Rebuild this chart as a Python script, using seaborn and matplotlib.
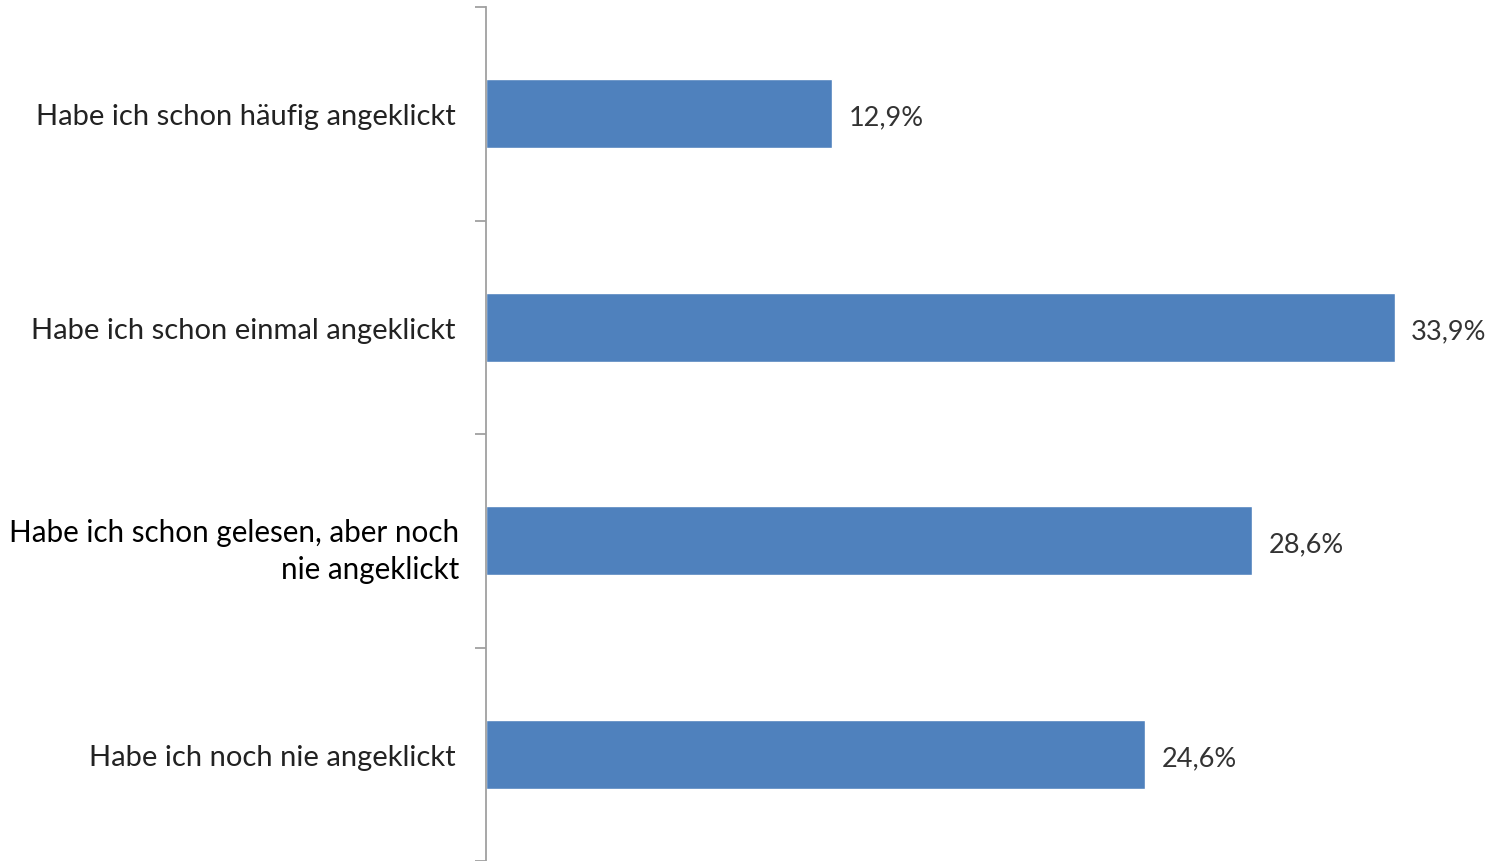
import matplotlib
matplotlib.use("Agg")
import matplotlib.pyplot as plt
import matplotlib.transforms as mtransforms
import seaborn as sns
import pandas as pd

categories = [
    "Habe ich schon häufig angeklickt",
    "Habe ich schon einmal angeklickt",
    "Habe ich schon gelesen, aber noch\nnie angeklickt",
    "Habe ich noch nie angeklickt",
]
values = [12.9, 33.9, 28.6, 24.6]
value_labels = ["12,9%", "33,9%", "28,6%", "24,6%"]

sns.set_theme(style="white")
plt.rcParams["font.family"] = ["Lato", "DejaVu Sans"]

df = pd.DataFrame({"Kategorie": categories, "Anteil": values})

fig = plt.figure(figsize=(14.91, 8.62), dpi=100)
ax = fig.add_axes([486 / 1491, 0.0, 1 - 486 / 1491, 1 - 8 / 862])

sns.barplot(data=df, x="Anteil", y="Kategorie", orient="h", color="#4F81BD",
            width=0.325, saturation=1, ax=ax)

ax.set_xlim(0, 37.5)
ax.set_ylim(3.5, -0.5)
ax.set_xlabel("")
ax.set_ylabel("")
ax.set_xticks([])

for s in ["top", "right", "bottom"]:
    ax.spines[s].set_visible(False)
ax.spines["left"].set_color("#A0A0A0")
ax.spines["left"].set_linewidth(1.3)

# category boundaries carry the tick marks
ax.set_yticks([-0.5, 0.5, 1.5, 2.5, 3.5], minor=True)
ax.tick_params(axis="y", which="minor", length=8, width=1.3, color="#A0A0A0", left=True)
ax.tick_params(axis="y", which="major", length=0, pad=22, labelsize=21, labelcolor="#222222")

labels = ax.get_yticklabels()
third = labels[2]
third.set_fontsize(21.3)
third.set_color("#000000")
third.set_linespacing(1.4)
third.set_transform(third.get_transform()
                    + mtransforms.ScaledTranslation(4 / 100, -3 / 100, fig.dpi_scale_trans))

for i, (v, t) in enumerate(zip(values, value_labels)):
    ax.annotate(t, xy=(v, i), xytext=(12, -2.5), textcoords="offset points",
                ha="left", va="center", fontsize=19.5, color="#333333")

fig.savefig("out.png", dpi=100)
